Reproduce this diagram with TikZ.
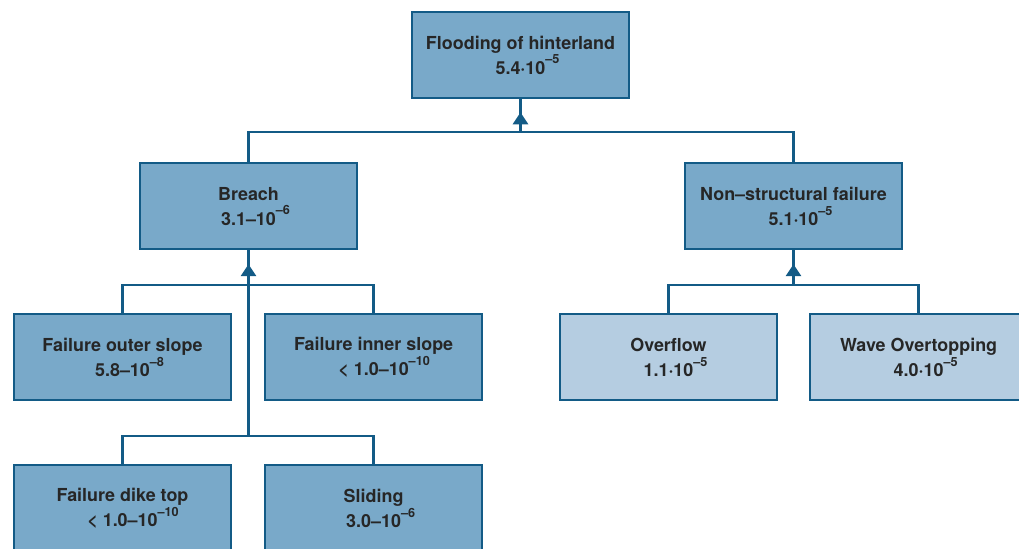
\documentclass[tikz,border=0pt]{standalone}
\usepackage{fontspec}
\setmainfont{TeX Gyre Heros}
\usepackage{tikz}
\usetikzlibrary{positioning, arrows.meta, calc, decorations.markings}

\definecolor{boxdark}{HTML}{79A9C9}
\definecolor{boxlight}{HTML}{B5CDE1}
\definecolor{edgeblue}{HTML}{135B86}
\definecolor{labelgray}{HTML}{262626}

% exponent hangs out of the centred line
\newcommand{\pexp}[1]{\rlap{\raisebox{1.05ex}{\fontsize{7.2}{8}\selectfont #1}}}

\tikzset{
  event/.style={rectangle, draw=edgeblue, line width=1.2pt, fill=boxdark, minimum width=4.34cm, minimum height=1.72cm, align=center, text=labelgray, font=\fontsize{10.2}{14.2}\selectfont\bfseries},
  basic/.style={event, fill=boxlight},
  link/.style={edgeblue, line width=1.5pt},
  gate/.style={postaction={decorate}, decoration={markings, mark=at position 0.6 with {\arrow{Triangle[width=0.3cm,length=0.24cm]}}}},
}

\begin{document}
\begin{tikzpicture}
\useasboundingbox (-10.41,1.1) rectangle (9.97,-9.86);
\clip (-10.41,1.1) rectangle (9.97,-9.86);

\node [event] (flood) at (0,0) {Flooding of hinterland\\5.4·10\pexp{–5}};
\node [event, below = 1.26cm of flood, xshift=-5.44cm] (breach) {Breach\\3.1–10\pexp{–6}};
\node [event, below = 1.26cm of flood, xshift=5.46cm] (nonstr) {Non–structural failure\\5.1·10\pexp{–5}};
\node [event, below = 1.26cm of breach, xshift=-2.52cm] (outer) {Failure outer slope\\5.8–10\pexp{–8}};
\node [event, right = 0.64cm of outer] (inner) {Failure inner slope\\< 1.0–10\pexp{–10}};
\node [event, below = 1.26cm of outer] (dike) {Failure dike top\\< 1.0–10\pexp{–10}};
\node [event, below = 1.26cm of inner] (slide) {Sliding\\3.0–10\pexp{–6}};
\node [basic, below = 1.26cm of nonstr, xshift=-2.5cm] (overflow) {Overflow\\1.1·10\pexp{–5}};
\node [basic, right = 0.62cm of overflow] (wave) {Wave Overtopping\\4.0·10\pexp{–5}};

\coordinate (busA) at ($(flood.south)+(0,-0.66)$);
\coordinate (busB) at ($(breach.south)+(0,-0.7)$);
\coordinate (busC) at ($(busB)+(0,-3.02)$);
\coordinate (busD) at ($(nonstr.south)+(0,-0.7)$);

\draw [link] (breach.north) |- (busA) -| (nonstr.north);
\draw [link, gate] (busA) -- (flood.south);

\draw [link] (outer.north) |- (busB) -| (inner.north);
\draw [link, gate] (busB) -- (breach.south);
\draw [link] (busC) -- (busB);
\draw [link] (dike.north) |- (busC) -| (slide.north);

\draw [link] (overflow.north) |- (busD) -| (wave.north);
\draw [link, gate] (busD) -- (nonstr.south);

\end{tikzpicture}
\end{document}
